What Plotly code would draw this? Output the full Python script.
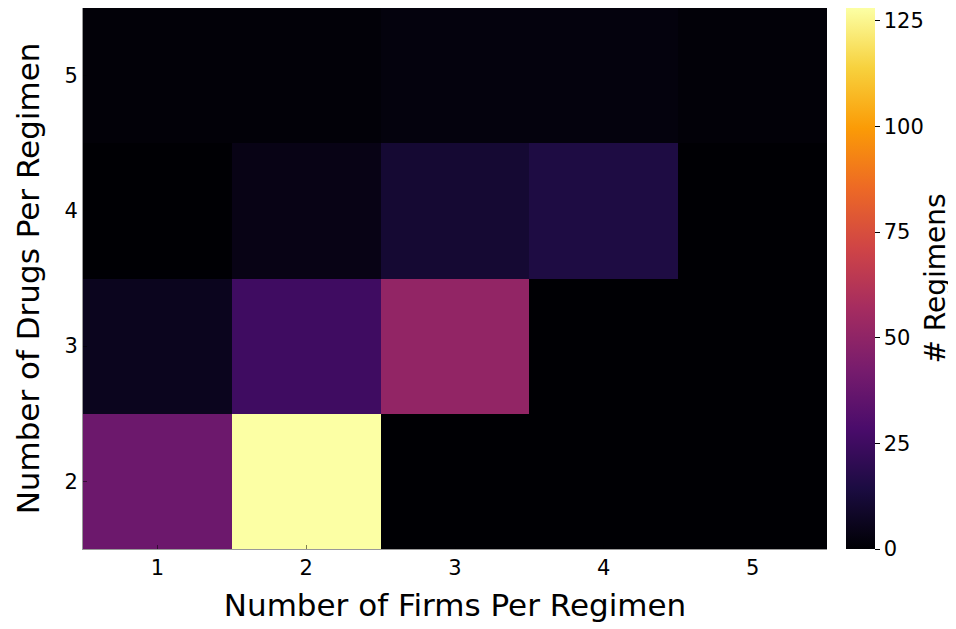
import plotly.graph_objects as go

firms = [1, 2, 3, 4, 5]
drugs = [2, 3, 4, 5]
# counts[row = drugs][col = firms]
counts_2 = [39, 128, 0, 0, 0]
counts_3 = [6, 25, 51, 0, 0]
counts_4 = [0, 4, 11, 15, 0]
counts_5 = [1, 1, 2, 2, 1]
z = [counts_2, counts_3, counts_4, counts_5]

cb_ticks = [0, 25, 50, 75, 100, 125]

font = "DejaVu Sans"
L, R, T, B = 75, 129, 0, 80
W, H = 948, 621
pw = W - L - R

fig = go.Figure(go.Heatmap(
    x=firms, y=drugs, z=z,
    colorscale="Inferno", zmin=0, zmax=128,
    xgap=0, ygap=0,
    colorbar=dict(
        x=(846 - 83) / pw, xanchor="left", xpad=0, ypad=0,
        y=0.5, yanchor="middle", len=1, lenmode="fraction",
        thickness=29, outlinewidth=0,
        tickvals=cb_ticks, ticks="outside", ticklen=5, tickcolor="black",
        tickfont=dict(family=font, size=21, color="black"),
    ),
))

fig.add_annotation(
    text="# Regimens", textangle=-90, showarrow=False,
    xref="paper", yref="paper", x=(935 - 83) / pw, y=0.5,
    xanchor="center", yanchor="middle", borderpad=0,
    font=dict(family=font, size=28, color="black"),
)

fig.update_layout(
    width=W, height=H,
    margin=dict(l=L, r=R, t=T, b=B, autoexpand=False),
    paper_bgcolor="white", plot_bgcolor="white",
    font=dict(family=font, color="black"),
    xaxis=dict(
        range=[0.5, 5.5], tickvals=firms, ticks="inside", ticklen=4,
        tickcolor="rgba(0,0,0,0.5)",
        showline=True, linecolor="rgba(0,0,0,0.4)", linewidth=1,
        showgrid=False, zeroline=False, automargin=False,
        tickfont=dict(family=font, size=21),
        title=dict(text="Number of Firms Per Regimen", font=dict(family=font, size=31),
                   standoff=15),
    ),
    yaxis=dict(
        range=[1.5, 5.5], tickvals=drugs, ticks="inside", ticklen=4,
        tickcolor="rgba(0,0,0,0.5)",
        showline=True, linecolor="rgba(0,0,0,0.4)", linewidth=1,
        showgrid=False, zeroline=False, automargin=False,
        tickfont=dict(family=font, size=21),
        title=dict(text="Number of Drugs Per Regimen", font=dict(family=font, size=31),
                   standoff=15),
    ),
)

fig.write_html("out.html")
